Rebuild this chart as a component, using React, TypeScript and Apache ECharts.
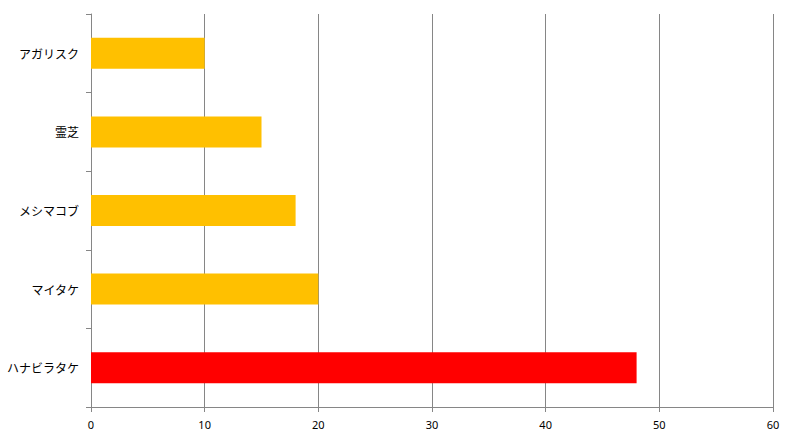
import React, { useEffect, useRef } from "react";
import * as echarts from "echarts";

const categories = ["アガリスク", "霊芝", "メシマコブ", "マイタケ", "ハナビラタケ"];
const values = [10, 15, 18, 20, 48];
const barColors = ["#FFC000", "#FFC000", "#FFC000", "#FFC000", "#FF0000"];

export default function App() {
  const ref = useRef<HTMLDivElement>(null);
  useEffect(() => {
    document.body.style.margin = "0";
    const chart = echarts.init(ref.current!, null, { renderer: "svg" });
    chart.setOption({
      animation: false,
      backgroundColor: "#ffffff",
      grid: { left: 91, right: 21, top: 14, bottom: 34, containLabel: false },
      xAxis: {
        type: "value",
        min: 0,
        max: 60,
        interval: 10,
        axisLine: { show: true, lineStyle: { color: "#868686" } },
        axisTick: { show: true, length: 5, lineStyle: { color: "#868686" } },
        splitLine: { show: true, lineStyle: { color: "#868686", width: 1 } },
        axisLabel: { color: "#000", fontSize: 11, margin: 12, fontFamily: "Noto Sans, sans-serif" },
      },
      yAxis: {
        type: "category",
        data: categories,
        inverse: true,
        axisLine: { show: true, lineStyle: { color: "#868686" } },
        axisTick: { show: true, length: 5, lineStyle: { color: "#868686" } },
        axisLabel: { color: "#000", fontSize: 12, margin: 12, fontFamily: "Noto Sans CJK JP, sans-serif" },
      },
      series: [
        {
          type: "bar",
          data: values.map((v, i) => ({ value: v, itemStyle: { color: barColors[i] } })),
          barWidth: 31,
        },
      ],
    });
    return () => chart.dispose();
  }, []);
  return <div ref={ref} style={{ width: 794, height: 441 }} />;
}
